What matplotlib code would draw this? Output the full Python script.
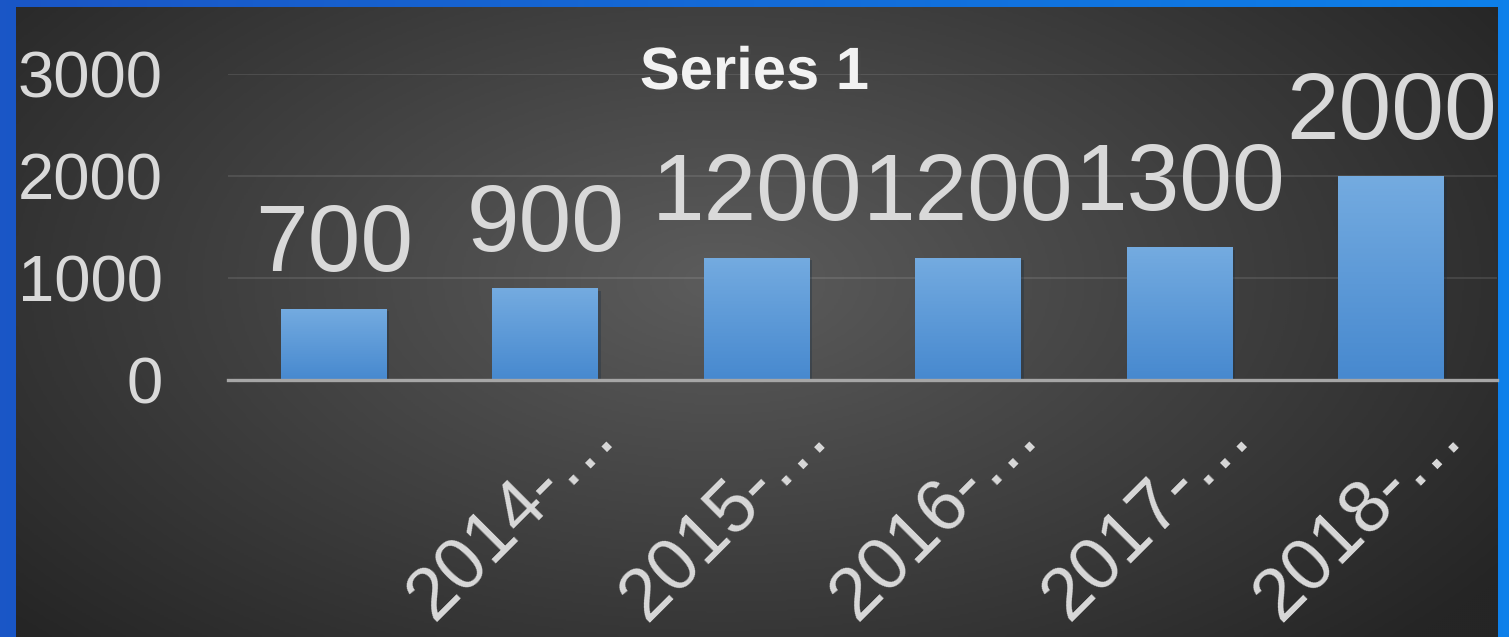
import numpy as np
import matplotlib
matplotlib.use('Agg')
import matplotlib.pyplot as plt
import matplotlib.patheffects as pe
from matplotlib.colors import LinearSegmentedColormap
from matplotlib.transforms import ScaledTranslation

plt.rcParams['font.family'] = ['Liberation Sans', 'DejaVu Sans']

# 数据
categories = ['', '2014-…', '2015-…', '2016-…', '2017-…', '2018-…']
values = [700, 900, 1200, 1200, 1300, 2000]
yticks = [0, 1000, 2000, 3000]
title = 'Series 1'

W, H = 1509, 637
fig = plt.figure(figsize=(W / 100, H / 100), dpi=100)

# 背景：蓝色边框 + 深色径向渐变
bg = fig.add_axes([0, 0, 1, 1], zorder=0)
bg.set_axis_off()
blue = LinearSegmentedColormap.from_list('blue', ['#1a56c6', '#0d80ea'])
bg.imshow(np.linspace(0, 1, 256)[None, :], cmap=blue, aspect='auto',
          extent=(0, W, H, 0))
yy, xx = np.mgrid[7:H:2, 16:1498:2]
r = np.sqrt(((xx - 720) / 950.0) ** 2 + ((yy - 280) / 520.0) ** 2)
shade = np.clip(1 - r, 0, 1)
dark = LinearSegmentedColormap.from_list('dark', ['#252525', '#5c5c5c'])
bg.imshow(shade, cmap=dark, vmin=0, vmax=1, aspect='auto',
          extent=(16, 1498, H, 7), interpolation='bilinear')
bg.set_xlim(0, W)
bg.set_ylim(H, 0)

# 主图
ax = fig.add_axes([228 / W, (H - 380) / H, 1269 / W, 306 / H], zorder=1)
ax.set_facecolor('none')
x = np.arange(len(values))
bars = ax.bar(x, values, width=0.5, color='#5a9ad8', zorder=3)
bar_cmap = LinearSegmentedColormap.from_list('bar', ['#4789cf', '#74abe0'])
for b in bars:
    b.set_path_effects([pe.SimplePatchShadow(offset=(2, -2), alpha=0.35), pe.Normal()])
    im = ax.imshow(np.linspace(0, 1, 100)[:, None], cmap=bar_cmap, origin='lower',
                   aspect='auto', zorder=4,
                   extent=(b.get_x(), b.get_x() + b.get_width(), 0, b.get_height()))
    im.set_clip_path(b)

ax.set_xlim(-0.5, len(values) - 0.5)
ax.set_ylim(0, 3000)
ax.set_yticks(yticks)
ax.set_yticklabels([str(t) for t in yticks], fontsize=47, color='#d9d9d9')
ax.tick_params(axis='y', length=0, pad=47)
ax.set_xticks([])
for s in ['left', 'right', 'top']:
    ax.spines[s].set_visible(False)
ax.spines['bottom'].set_color('#a6a6a6')
ax.spines['bottom'].set_linewidth(2.4)
ax.spines['bottom'].set_zorder(5)
ax.grid(axis='y', color='#ffffff', alpha=0.12, linewidth=1.2, zorder=1)
ax.set_axisbelow(True)

# 数据标签
for xi, v in zip(x, values):
    ax.annotate(str(v), (xi, v), xytext=(0, 27), textcoords='offset points',
                ha='center', va='baseline', fontsize=68, color='#d9d9d9')

# 倾斜的x轴标签
off = ax.get_xaxis_transform() + ScaledTranslation(0.74, -0.57, fig.dpi_scale_trans)
for xi, lab in zip(x, categories):
    ax.text(xi, 0, lab, transform=off, rotation=45, rotation_mode='anchor',
            ha='right', va='baseline', fontsize=53, color='#d9d9d9', clip_on=False)

# 标题
fig.text(0.5, 1 - 89 / H, title, ha='center', va='baseline', fontsize=43,
         fontweight='bold', color='#f2f2f2',
         path_effects=[pe.SimplePatchShadow(offset=(2, -2), alpha=0.5), pe.Normal()])

plt.savefig('out.png', dpi=100)
plt.close()
